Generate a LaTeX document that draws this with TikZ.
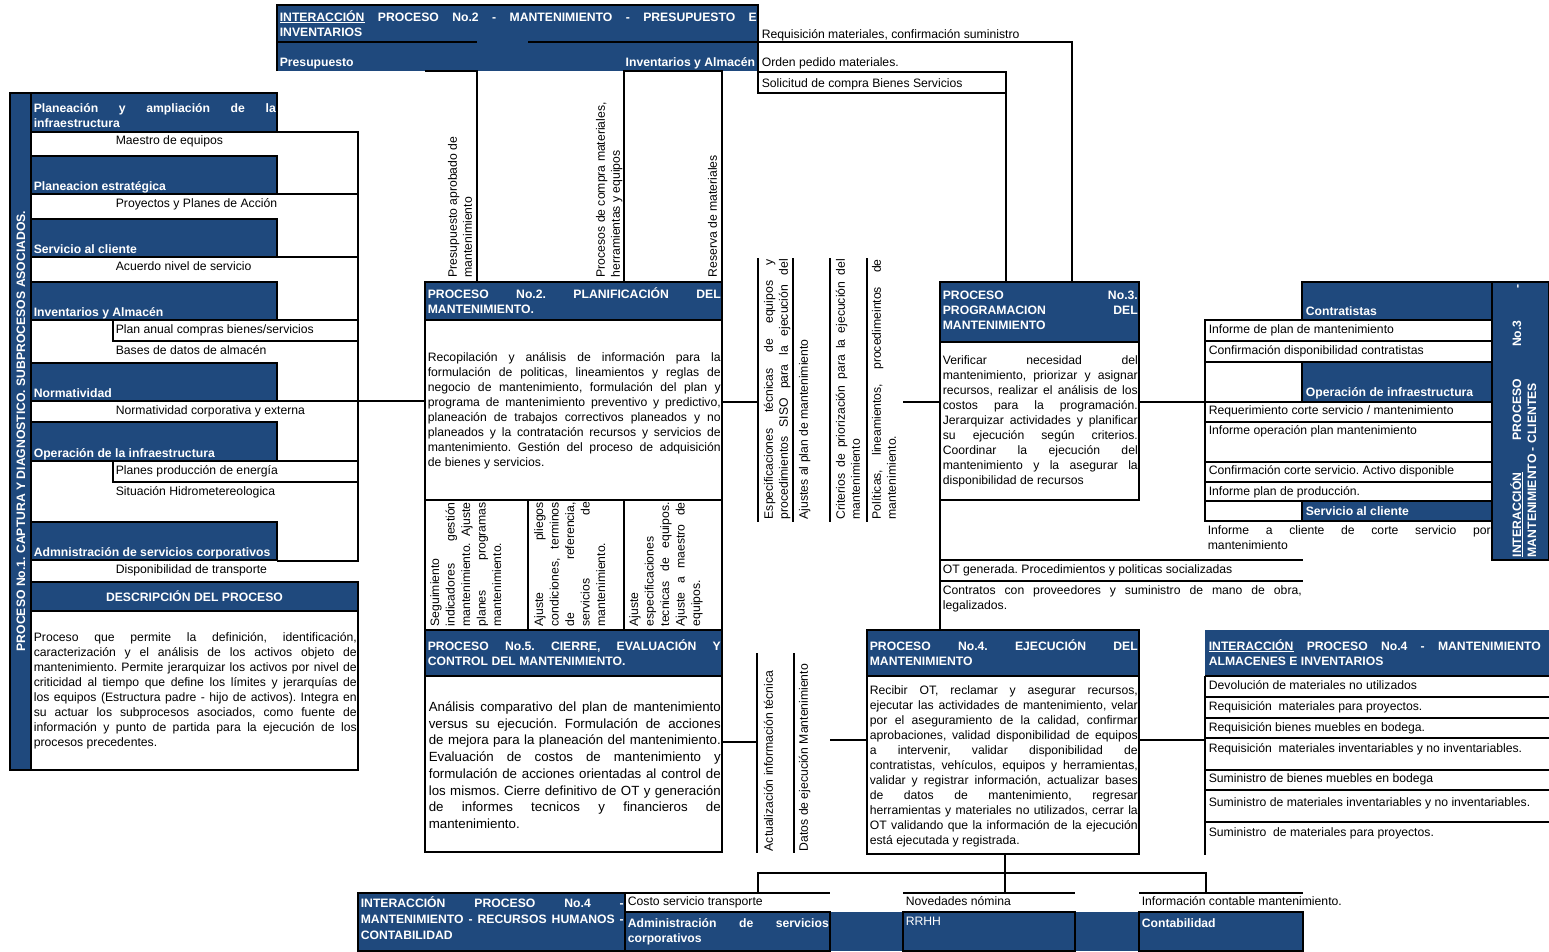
\documentclass[tikz,border=0pt]{standalone}
\usepackage{fontspec}
\setmainfont{Liberation Sans}
\definecolor{hblue}{RGB}{31,73,125}
\newcommand\fs{\fontsize{12.2}{15}\selectfont\frenchspacing}
\newlength\jw
\newcommand\JL[1]{\leavevmode\hbox to \jw{\spaceskip=0pt\xspaceskip=0pt #1}}
\newcommand\LL[1]{\leavevmode\hbox{\spaceskip=0pt\xspaceskip=0pt #1}}
\begin{document}
\begin{tikzpicture}[x=1pt,y=-1pt,line width=1.6pt,
  bfill/.style={fill=hblue,draw=none},
  bbox/.style={fill=hblue,draw=black},
  wbox/.style={fill=white,draw=black},
  tx/.style={inner sep=0pt,font=\fs,anchor=base west},
  wt/.style={inner sep=0pt,font=\fs\bfseries,text=white,anchor=base west},
  pb/.style={inner sep=0pt,font=\fs,anchor=north west,align=left,text width=#1pt,execute at begin node={\setlength{\jw}{#1pt}}},
  pw/.style={pb=#1,font=\fs\bfseries,text=white},
  rp/.style={pb=#1,rotate=90},
  rp0/.style={inner sep=0pt,font=\fs,anchor=north west,align=left,rotate=90}]
\useasboundingbox (0,0) rectangle (1549,951);

% ---------- fills ----------
\path[bfill] (277,5) rectangle (758,71);
\path[bbox] (10,93) rectangle (31,770);
\foreach \a/\b in {93/132,156/194,219/257,282/320,363/401,422/461,522/560}
  \path[bbox] (31,\a) rectangle (277,\b);
\path[bbox] (31,582) rectangle (358,611);
\path[wbox] (31,611) rectangle (358,770);

% process boxes
\path[bbox] (425,282) rectangle (722,320);
\path[wbox] (425,320) rectangle (722,500);
\path[wbox] (425,500) rectangle (722,630);
\path[bbox] (425,630) rectangle (722,676);
\path[wbox] (425,676) rectangle (722,852);
\path[bbox] (940,282) rectangle (1139,342);
\path[wbox] (940,342) rectangle (1139,500);
\path[bbox] (867,630) rectangle (1139,676);
\path[wbox] (867,676) rectangle (1139,854);

% right interaction 3
\path[bbox] (1302,282) rectangle (1492,320);
\path[bbox] (1492,282) rectangle (1549,560);
\path[bbox] (1302,362) rectangle (1492,402);
\path[bbox] (1302,501) rectangle (1492,521);
% interaction 4
\path[bfill] (1205,630) rectangle (1549,676);
% bottom
\path[bbox] (358,893) rectangle (625,951);
\path[bfill] (625,912) rectangle (1303,951);
\path[bbox] (625,912) rectangle (830,951);
\path[bbox] (903,912) rectangle (1075,951);
\path[bbox] (1139,912) rectangle (1303,951);

% ---------- lines ----------
% top header
\draw (277,71) -- (277,5) -- (758,5) -- (758,93);
\draw (277,42) -- (477,42);
\draw (528,42) -- (1072,42) -- (1072,282);
\draw (425,71) -- (477,71) -- (477,282);
\draw (624,282) -- (624,71) -- (722,71) -- (722,282);
\draw (758,72) rectangle (1006,93);
\draw (1006,93) -- (1006,282);

% left column lines
\draw (277,132) -- (358,132) -- (358,561) -- (277,561);
\draw (277,194) -- (358,194);
\draw (277,257) -- (358,257);
\draw (113,320) rectangle (358,341);
\draw (277,401) -- (425,401);
\draw (113,461) rectangle (358,482);

% proceso 5 top cells
\draw (528,500) -- (528,630);
\draw (624,500) -- (624,630);

% connectors between processes
\draw (722,402) -- (758,402);
\draw (903,402) -- (940,402);
\foreach \x in {758,793,830,867} \draw (\x,258) -- (\x,522);
\draw (940,500) -- (940,630);
\draw (940,560) -- (1303,560);
\draw (940,581) -- (1303,581);
\draw (722,742) -- (757,742);
\draw (830,740) -- (867,740);
\draw (757,653) -- (757,853);
\draw (794,653) -- (794,853);
\draw (1139,740) -- (1205,740);

% interaction 3 rows
\draw (1139,402) -- (1205,402);
\draw (1205,320) rectangle (1492,341);
\draw (1205,341) rectangle (1492,362);
\draw (1205,362) -- (1205,402);
\draw (1205,402) rectangle (1492,422);
\draw (1205,422) rectangle (1492,462);
\draw (1205,462) rectangle (1492,482);
\draw (1205,482) rectangle (1492,501);
\draw (1205,501) -- (1205,521) -- (1302,521);

% interaction 4 rows
\draw (1205,676) -- (1205,855);
\foreach \y in {676,697,718,738,770,790,822} \draw (1205,\y) -- (1549,\y);

% bottom connectors
\draw (1005,854) -- (1005,893);
\draw (758,893) -- (758,873) -- (1206,873) -- (1206,893);
\draw (625,893) -- (830,893);
\draw (903,893) -- (1075,893);
\draw (1139,893) -- (1303,893);

% ---------- texts ----------
% top header
\node[pw=477] (th) at (279,9.5) {\strut\JL{\underline{INTERACCIÓN} PROCESO No.2 - MANTENIMIENTO - PRESUPUESTO E}\\\LL{INVENTARIOS}};
\node[wt] (tpre) at (279,66) {Presupuesto};
\node[wt,anchor=base east] (tinv) at (756,66) {Inventarios y Almacén};
\node[tx] (treq) at (761,38) {Requisición materiales, confirmación suministro};
\node[tx] (tord) at (761,66) {Orden pedido materiales.};
\node[tx] (tsol) at (761,87) {Solicitud de compra Bienes Servicios};

% left column
\node[rotate=90,inner sep=0pt,font=\fs\bfseries,text=white] (p1) at (21,431) {PROCESO No.1. CAPTURA Y DIAGNOSTICO. SUBPROCESOS ASOCIADOS.};
\node[pw=242] (s1) at (33,101.5) {\strut\JL{Planeación y ampliación de la}\\\LL{infraestructura}};
\node[wt] (s2) at (33,190) {Planeacion estratégica};
\node[wt] (s3) at (33,253) {Servicio al cliente};
\node[wt] (s4) at (33,316) {Inventarios y Almacén};
\node[wt] (s5) at (33,397) {Normatividad};
\node[wt] (s6) at (33,457) {Operación de la infraestructura};
\node[wt] (s7) at (33,556) {Admnistración de servicios corporativos};
\node[tx] (o1) at (115,144) {Maestro de equipos};
\node[tx] (o2) at (115,207) {Proyectos y Planes de Acción};
\node[tx] (o3) at (115,270) {Acuerdo nivel de servicio};
\node[tx] (o4) at (115,333) {Plan anual compras bienes/servicios};
\node[tx] (o5) at (115,354) {Bases de datos de almacén};
\node[tx] (o6) at (115,414) {Normatividad corporativa y externa};
\node[tx] (o7) at (115,474) {Planes producción de energía};
\node[tx] (o8) at (115,495) {Situación Hidrometereologica};
\node[tx] (o9) at (115,573) {Disponibilidad de transporte};
\node[inner sep=0pt,font=\fs\bfseries,text=white] (dh) at (194.5,596.5) {DESCRIPCIÓN DEL PROCESO};
\node[pb=323] (dt) at (33,630.5) {\strut\JL{Proceso que permite la definición, identificación,}\\
\JL{caracterización y el análisis de los activos objeto de}\\
\JL{mantenimiento. Permite jerarquizar los activos por nivel de}\\
\JL{criticidad al tiempo que define los límites y jerarquías de}\\
\JL{los equipos (Estructura padre - hijo de activos). Integra en}\\
\JL{su actuar los subprocesos asociados, como fuente de}\\
\JL{información y punto de partida para la ejecución de los}\\
\LL{procesos precedentes.}};

% vertical labels above proceso 2
\node[rp0] (v1) at (445.5,278) {\strut\LL{Presupuesto aprobado de}\\\LL{mantenimiento}};
\node[rp0] (v2) at (593.5,278) {\strut\LL{Procesos de compra materiales,}\\\LL{herramientas y equipos}};
\node[rp0] (v3) at (705.5,278) {\strut\LL{Reserva de materiales}};

% proceso 2
\node[pw=293] (p2h) at (427,286.5) {\strut\JL{PROCESO No.2. PLANIFICACIÓN DEL}\\\LL{MANTENIMIENTO.}};
\node[pb=293] (p2b) at (427,350.5) {\strut\JL{Recopilación y análisis de información para la}\\
\JL{formulación de politicas, lineamientos y reglas de}\\
\JL{negocio de mantenimiento, formulación del plan y}\\
\JL{programa de mantenimiento preventivo y predictivo,}\\
\JL{planeación de trabajos correctivos planeados y no}\\
\JL{planeados y la contratación recursos y servicios de}\\
\JL{mantenimiento. Gestión del proceso de adquisición}\\
\LL{de bienes y servicios.}};

% columns between 2 and 3
\node[rp=260] (c1) at (761.5,520) {\strut\JL{Especificaciones técnicas de equipos y}\\\JL{procedimientos SISO para la ejecución del}};
\node[rp0] (c2) at (796.5,520) {\strut\LL{Ajustes al plan de mantenimiento}};
\node[rp=260] (c3) at (833.5,520) {\strut\JL{Criterios de priorización para la ejecución del}\\\LL{mantenimiento}};
\node[rp=260] (c4) at (869.5,520) {\strut\JL{Políticas, lineamientos, procedimeintos de}\\\LL{mantenimiento.}};

% proceso 3
\node[pw=195] (p3h) at (942,288.5) {\strut\JL{PROCESO No.3.}\\\JL{PROGRAMACION DEL}\\\LL{MANTENIMIENTO}};
\node[pb=195] (p3b) at (942,353.5) {\strut\JL{Verificar necesidad del}\\
\JL{mantenimiento, priorizar y asignar}\\
\JL{recursos, realizar el análisis de los}\\
\JL{costos para la programación.}\\
\JL{Jerarquizar actividades y planificar}\\
\JL{su ejecución según criterios.}\\
\JL{Coordinar la ejecución del}\\
\JL{mantenimiento y la asegurar la}\\
\LL{disponibilidad de recursos}};

% interaction 3
\node[wt] (i3a) at (1305,315) {Contratistas};
\node[wt] (i3b) at (1305,396) {Operación de infraestructura};
\node[wt] (i3c) at (1305,515) {Servicio al cliente};
\node[tx] (i3r1) at (1208,333) {Informe de plan de mantenimiento};
\node[tx] (i3r2) at (1208,354) {Confirmación disponibilidad contratistas};
\node[tx] (i3r3) at (1208,414) {Requerimiento corte servicio / mantenimiento};
\node[tx] (i3r4) at (1208,434) {Informe operación plan mantenimiento};
\node[tx] (i3r5) at (1208,474) {Confirmación corte servicio. Activo disponible};
\node[tx] (i3r6) at (1208,495) {Informe plan de producción.};
\node[pb=283] (i3r7) at (1207,523.5) {\strut\JL{Informe a cliente de corte servicio por}\\\LL{mantenimiento}};
\node[pw=273,rotate=90] (i3t) at (1509.5,558) {\strut\JL{\underline{INTERACCIÓN} PROCESO No.3 -}\\\LL{MANTENIMIENTO - CLIENTES}};

% OT rows
\node[tx] (ot1) at (942,573) {OT generada. Procedimientos y politicas socializadas};
\node[pb=359] (ot2) at (942,583.5) {\strut\JL{Contratos con proveedores y suministro de mano de obra,}\\\LL{legalizados.}};

% cells above proceso 5
\node[rp=124,font=\fontsize{12.2}{15.5}\selectfont\frenchspacing] (k1) at (427.5,627) {\strut\LL{Seguimiento}\\\JL{indicadores gestión}\\\JL{mantenimiento. Ajuste}\\\JL{planes programas}\\\LL{mantenimiento.}};
\node[rp=124,font=\fontsize{12.2}{15.5}\selectfont\frenchspacing] (k2) at (531.5,627) {\strut\JL{Ajuste pliegos}\\\JL{condiciones, terminos}\\\JL{de referencia,}\\\JL{servicios de}\\\LL{mantenimiento.}};
\node[rp=124,font=\fontsize{12.2}{15.5}\selectfont\frenchspacing] (k3) at (626.5,627) {\strut\LL{Ajuste}\\\LL{especificaciones}\\\JL{tecnicas de equipos.}\\\JL{Ajuste a maestro de}\\\LL{equipos.}};

% proceso 5
\node[pw=293] (p5h) at (427,638.5) {\strut\JL{PROCESO No.5. CIERRE, EVALUACIÓN Y}\\\LL{CONTROL DEL MANTENIMIENTO.}};
\node[pb=292,font=\fontsize{13.3}{16.7}\selectfont\frenchspacing] (p5b) at (428,699) {\strut\JL{Análisis comparativo del plan de mantenimiento}\\
\JL{versus su ejecución. Formulación de acciones}\\
\JL{de mejora para la planeación del mantenimiento.}\\
\JL{Evaluación de costos de mantenimiento y}\\
\JL{formulación de acciones orientadas al control de}\\
\JL{los mismos. Cierre definitivo de OT y generación}\\
\JL{de informes tecnicos y financieros de}\\
\LL{mantenimiento.}};

% columns between 5 and 4
\node[rp0] (d1) at (761.5,852) {\strut\LL{Actualización información técnica}};
\node[rp0] (d2) at (796.5,852) {\strut\LL{Datos de ejecución Mantenimiento}};

% proceso 4
\node[pw=268] (p4h) at (869,638.5) {\strut\JL{PROCESO No.4. EJECUCIÓN DEL}\\\LL{MANTENIMIENTO}};
\node[pb=268] (p4b) at (869,683.5) {\strut\JL{Recibir OT, reclamar y asegurar recursos,}\\
\JL{ejecutar las actividades de mantenimiento, velar}\\
\JL{por el aseguramiento de la calidad, confirmar}\\
\JL{aprobaciones, validad disponibilidad de equipos}\\
\JL{a intervenir, validar disponibilidad de}\\
\JL{contratistas, vehículos, equipos y herramientas,}\\
\JL{validar y registrar información, actualizar bases}\\
\JL{de datos de mantenimiento, regresar}\\
\JL{herramientas y materiales no utilizados, cerrar la}\\
\JL{OT validando que la información de la ejecución}\\
\LL{está ejecutada y registrada.}};

% interaction 4
\node[pw=332] (i4h) at (1208,638.5) {\strut\JL{\underline{INTERACCIÓN} PROCESO No.4 - MANTENIMIENTO}\\\LL{ALMACENES E INVENTARIOS}};
\node[tx] (i4r1) at (1208,689) {Devolución de materiales no utilizados};
\node[tx] (i4r2) at (1208,710) {Requisición\ \ materiales para proyectos.};
\node[tx] (i4r3) at (1208,731) {Requisición bienes muebles en bodega.};
\node[tx] (i4r4) at (1208,752) {Requisición\ \ materiales inventariables y no inventariables.};
\node[tx] (i4r5) at (1208,782) {Suministro de bienes muebles en bodega};
\node[tx] (i4r6) at (1208,806) {Suministro de materiales inventariables y no inventariables.};
\node[tx] (i4r7) at (1208,836) {Suministro\ \ de materiales para proyectos.};

% bottom
\node[pw=263,font=\fontsize{12.2}{16}\selectfont\bfseries\frenchspacing] (bh) at (360,895.5) {\strut\JL{INTERACCIÓN PROCESO No.4 -}\\\JL{MANTENIMIENTO - RECURSOS HUMANOS -}\\\LL{CONTABILIDAD}};
\node[tx] (b1) at (627,905) {Costo servicio transporte};
\node[pw=201] (b2) at (627,916.5) {\strut\JL{Administración de servicios}\\\LL{corporativos}};
\node[tx] (b3) at (905,905) {Novedades nómina};
\node[tx,text=white] (b4) at (905,925) {RRHH};
\node[tx] (b5) at (1141,905) {Información contable mantenimiento.};
\node[wt] (b6) at (1141,927) {Contabilidad};
\end{tikzpicture}
\end{document}
